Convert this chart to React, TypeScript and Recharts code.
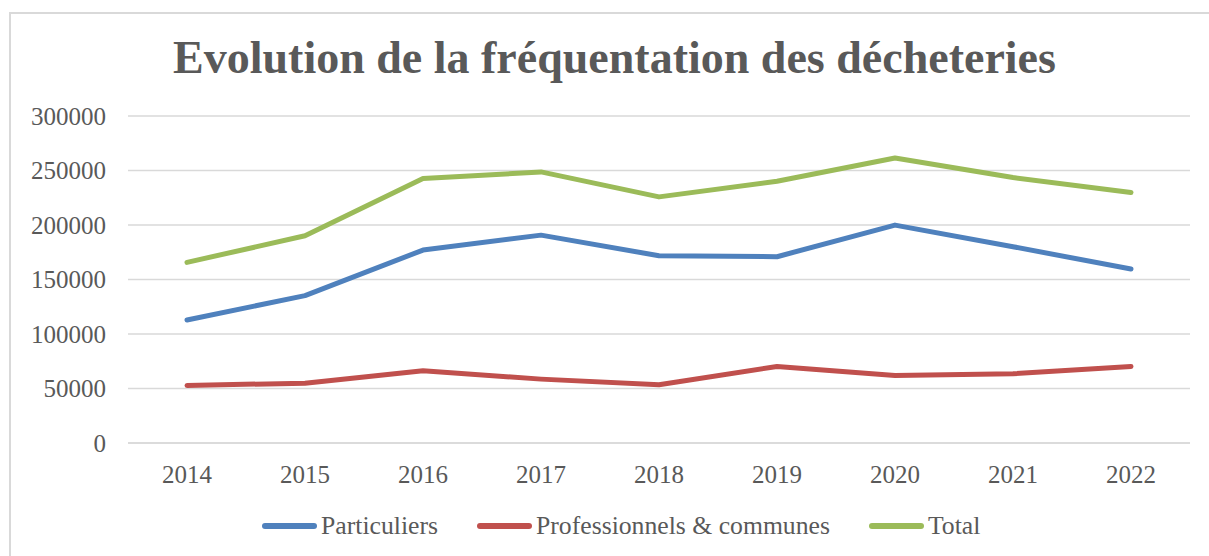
import { LineChart, Line, XAxis, YAxis, CartesianGrid } from "recharts";

const years = ["2014", "2015", "2016", "2017", "2018", "2019", "2020", "2021", "2022"];
const particuliers = [112900, 135200, 177000, 190700, 171800, 170900, 199900, 180100, 159600];
const professionnels = [52800, 54900, 66200, 58600, 53400, 70200, 62000, 63500, 70200];
const total = [165700, 190100, 242600, 248700, 225800, 240200, 261500, 243500, 229800];
const yTicks = [0, 50000, 100000, 150000, 200000, 250000, 300000];

const SERIES = [
  { key: "particuliers", name: "Particuliers", color: "#4f81bd" },
  { key: "professionnels", name: "Professionnels & communes", color: "#c0504d" },
  { key: "total", name: "Total", color: "#9bbb59" },
];

const FONT = '"Liberation Serif", "Times New Roman", serif';
const TEXT = "#595959";
const GRID = "#d9d9d9";

export default function App() {
  const data = years.map((year, i) => ({
    year,
    particuliers: particuliers[i],
    professionnels: professionnels[i],
    total: total[i],
  }));

  return (
    <div
      style={{
        position: "absolute",
        left: 0,
        top: 0,
        width: 1209,
        height: 556,
        background: "#fff",
        overflow: "hidden",
        fontFamily: FONT,
      }}
    >
      {/* cadre */}
      <div
        style={{
          position: "absolute",
          left: 9,
          top: 12,
          width: 1300,
          height: 600,
          borderLeft: `2px solid ${GRID}`,
          borderTop: `2px solid ${GRID}`,
        }}
      />

      <div
        style={{
          position: "absolute",
          left: 0,
          top: 31,
          width: 1229,
          textAlign: "center",
          fontSize: 46,
          lineHeight: "54px",
          fontWeight: "bold",
          color: TEXT,
        }}
      >
        Evolution de la fréquentation des décheteries
      </div>

      <div style={{ position: "absolute", left: 0, top: 0 }}>
        <LineChart
          width={1209}
          height={556}
          data={data}
          margin={{ top: 116, right: 19, bottom: 53, left: 0 }}
        >
          <CartesianGrid vertical={false} stroke={GRID} strokeWidth={1.5} />
          <XAxis
            dataKey="year"
            height={60}
            padding={{ left: 59, right: 59 }}
            axisLine={{ stroke: GRID, strokeWidth: 1.5 }}
            tickLine={false}
            tickSize={0}
            tickMargin={22}
            tick={{ fill: TEXT, fontSize: 25, fontFamily: FONT }}
          />
          <YAxis
            width={128}
            domain={[0, 300000]}
            ticks={yTicks}
            axisLine={false}
            tickLine={false}
            tickSize={0}
            tickMargin={22}
            tick={{ fill: TEXT, fontSize: 25, fontFamily: FONT }}
          />
          {SERIES.map((s) => (
            <Line
              key={s.key}
              type="linear"
              dataKey={s.key}
              name={s.name}
              stroke={s.color}
              strokeWidth={5}
              strokeLinecap="round"
              strokeLinejoin="round"
              dot={false}
              activeDot={false}
              isAnimationActive={false}
            />
          ))}
        </LineChart>
      </div>

      {/* légende */}
      <div
        style={{
          position: "absolute",
          left: 262,
          top: 510,
          height: 32,
          display: "flex",
          alignItems: "center",
          gap: 39,
          fontSize: 25.7,
          color: TEXT,
        }}
      >
        {SERIES.map((s) => (
          <div key={s.key} style={{ display: "flex", alignItems: "center" }}>
            <span
              style={{
                display: "inline-block",
                width: 55,
                height: 6,
                borderRadius: 3,
                background: s.color,
                marginRight: 4,
              }}
            />
            <span>{s.name}</span>
          </div>
        ))}
      </div>
    </div>
  );
}
